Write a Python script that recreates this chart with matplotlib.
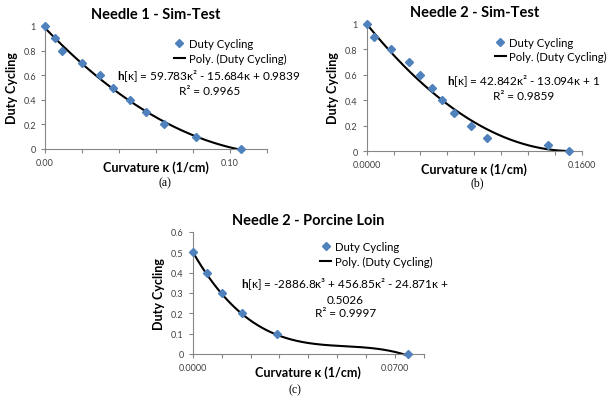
import numpy as np
import matplotlib
matplotlib.use("Agg")
import matplotlib.pyplot as plt
from matplotlib.ticker import FixedLocator, FixedFormatter

plt.rcParams['font.family'] = ['Lato', 'DejaVu Sans']
plt.rcParams['mathtext.fontset'] = 'custom'
plt.rcParams['mathtext.rm'] = 'Lato'
plt.rcParams['mathtext.bf'] = 'Lato:bold'

# (a) Needle 1 - Sim-Test
curv_a = [0.0, 0.0054, 0.0090, 0.0202, 0.0297, 0.0369, 0.0459, 0.0544, 0.0643, 0.0814, 0.1059]
duty_a = [1.0, 0.9, 0.8, 0.7, 0.6, 0.5, 0.4, 0.3, 0.2, 0.1, 0.0]
coef_a = [59.783, -15.684, 0.9839]

# (b) Needle 2 - Sim-Test
curv_b = [0.0, 0.0055, 0.0181, 0.0315, 0.0394, 0.0486, 0.0558, 0.0647, 0.0774, 0.0898, 0.1347, 0.1508]
duty_b = [1.0, 0.9, 0.8, 0.7, 0.6, 0.5, 0.4, 0.3, 0.2, 0.1, 0.05, 0.0]
coef_b = [42.842, -13.094, 1.0]

# (c) Needle 2 - Porcine Loin
curv_c = [0.0, 0.0049, 0.0101, 0.0170, 0.0291, 0.0744]
duty_c = [0.5, 0.4, 0.3, 0.2, 0.1, 0.0]
coef_c = [-2886.8, 456.85, -24.871, 0.5026]

W, H = 609, 402
BLUE = '#4F81BD'
GRAY = '#868686'


def px_axes(fig, x0, x1, ytop, ybot):
    return fig.add_axes([x0 / W, (H - ybot) / H, (x1 - x0) / W, (ybot - ytop) / H])


def draw_panel(ax, xs, ys, coef, xmax, xticks, xlabels, ymax, ystep, ylabels, title):
    ax.plot(xs, ys, linestyle='none', marker='D', markersize=4.3, color=BLUE,
            label='Duty Cycling', clip_on=False, zorder=3)
    xx = np.linspace(0, max(xs), 200)
    ax.plot(xx, np.polyval(coef, xx), color='black', lw=1.5,
            label='Poly. (Duty Cycling)', clip_on=False, zorder=2)
    ax.set_xlim(0, xmax)
    ax.set_ylim(0, ymax)
    ax.xaxis.set_major_locator(FixedLocator(xticks))
    ax.xaxis.set_major_formatter(FixedFormatter(xlabels))
    yt = np.arange(0, ymax + ystep / 2, ystep)
    ax.set_yticks(yt)
    ax.set_yticklabels(ylabels)
    for s in ['top', 'right']:
        ax.spines[s].set_visible(False)
    for s in ['left', 'bottom']:
        ax.spines[s].set_color(GRAY)
        ax.spines[s].set_linewidth(0.8)
    ax.tick_params(colors=GRAY, labelcolor='#404040', labelsize=6.5, length=3, width=0.8)
    ax.set_title(title, fontsize=10.5, fontweight='bold', pad=6)
    ax.set_ylabel('Duty Cycling', fontsize=9, fontweight='bold', labelpad=4)
    ax.set_xlabel('Curvature κ (1/cm)', fontsize=9, fontweight='bold')
    ax.xaxis.set_label_coords(0.5, -0.09)
    ax.set_facecolor('none')


def add_legend(ax, x0, y0):
    ax.legend(loc='upper left', bbox_to_anchor=(x0, y0), frameon=False, fontsize=8.2,
              handlelength=1.0, handletextpad=0.3, borderaxespad=0, borderpad=0,
              labelspacing=0.3, numpoints=1)


fig = plt.figure(figsize=(W / 100, H / 100), dpi=100)

# panel (a)
ax_a = px_axes(fig, 45, 267, 27, 150)
draw_panel(ax_a, curv_a, duty_a, coef_a, 0.12, np.arange(0, 0.121, 0.02),
           ['0.00', '', '', '', '', '0.10', ''], 1.0, 0.2,
           ['0', '0.2', '0.4', '0.6', '0.8', '1'], 'Needle 1 - Sim-Test')
add_legend(ax_a, 0.58, 0.90)
ax_a.text(0.74, 0.55, r'$\mathbf{h}$[κ] = 59.783κ² - 15.684κ + 0.9839' + '\nR² = 0.9965',
          transform=ax_a.transAxes, ha='center', va='center', fontsize=8.5,
          linespacing=1.2, multialignment='center')
fig.text(165 / W, 1 - 183 / H, '(a)', family='Liberation Serif', fontsize=8.5,
         ha='center', va='center')

# panel (b)
ax_b = px_axes(fig, 366.7, 581.7, 25, 152)
draw_panel(ax_b, curv_b, duty_b, coef_b, 0.16, np.arange(0, 0.161, 0.02),
           ['0.0000', '', '', '', '', '', '', '', '0.1600'], 1.0, 0.2,
           ['0', '0.2', '0.4', '0.6', '0.8', '1'], 'Needle 2 - Sim-Test')
add_legend(ax_b, 0.595, 0.90)
ax_b.text(0.73, 0.51, r'$\mathbf{h}$[κ] = 42.842κ² - 13.094κ + 1' + '\nR² = 0.9859',
          transform=ax_b.transAxes, ha='center', va='center', fontsize=8.5,
          linespacing=1.2, multialignment='center')
fig.text(477 / W, 1 - 183 / H, '(b)', family='Liberation Serif', fontsize=8.5,
         ha='center', va='center')

# panel (c)
ax_c = px_axes(fig, 192.7, 424, 233, 355)
draw_panel(ax_c, curv_c, duty_c, coef_c, 0.08, np.arange(0, 0.081, 0.01),
           ['0.0000', '', '', '', '', '', '', '0.0700', ''], 0.6, 0.1,
           ['0', '0.1', '0.2', '0.3', '0.4', '0.5', '0.6'], 'Needle 2 - Porcine Loin')
add_legend(ax_c, 0.55, 0.925)
ax_c.text(0.66, 0.47,
          r'$\mathbf{h}$[κ] = -2886.8κ³ + 456.85κ² - 24.871κ +' + '\n0.5026\nR² = 0.9997',
          transform=ax_c.transAxes, ha='center', va='center', fontsize=8.5,
          linespacing=1.3, multialignment='center')
fig.text(295 / W, 1 - 390 / H, '(c)', family='Liberation Serif', fontsize=8.5,
         ha='center', va='center')

fig.savefig('out.png', dpi=100)
